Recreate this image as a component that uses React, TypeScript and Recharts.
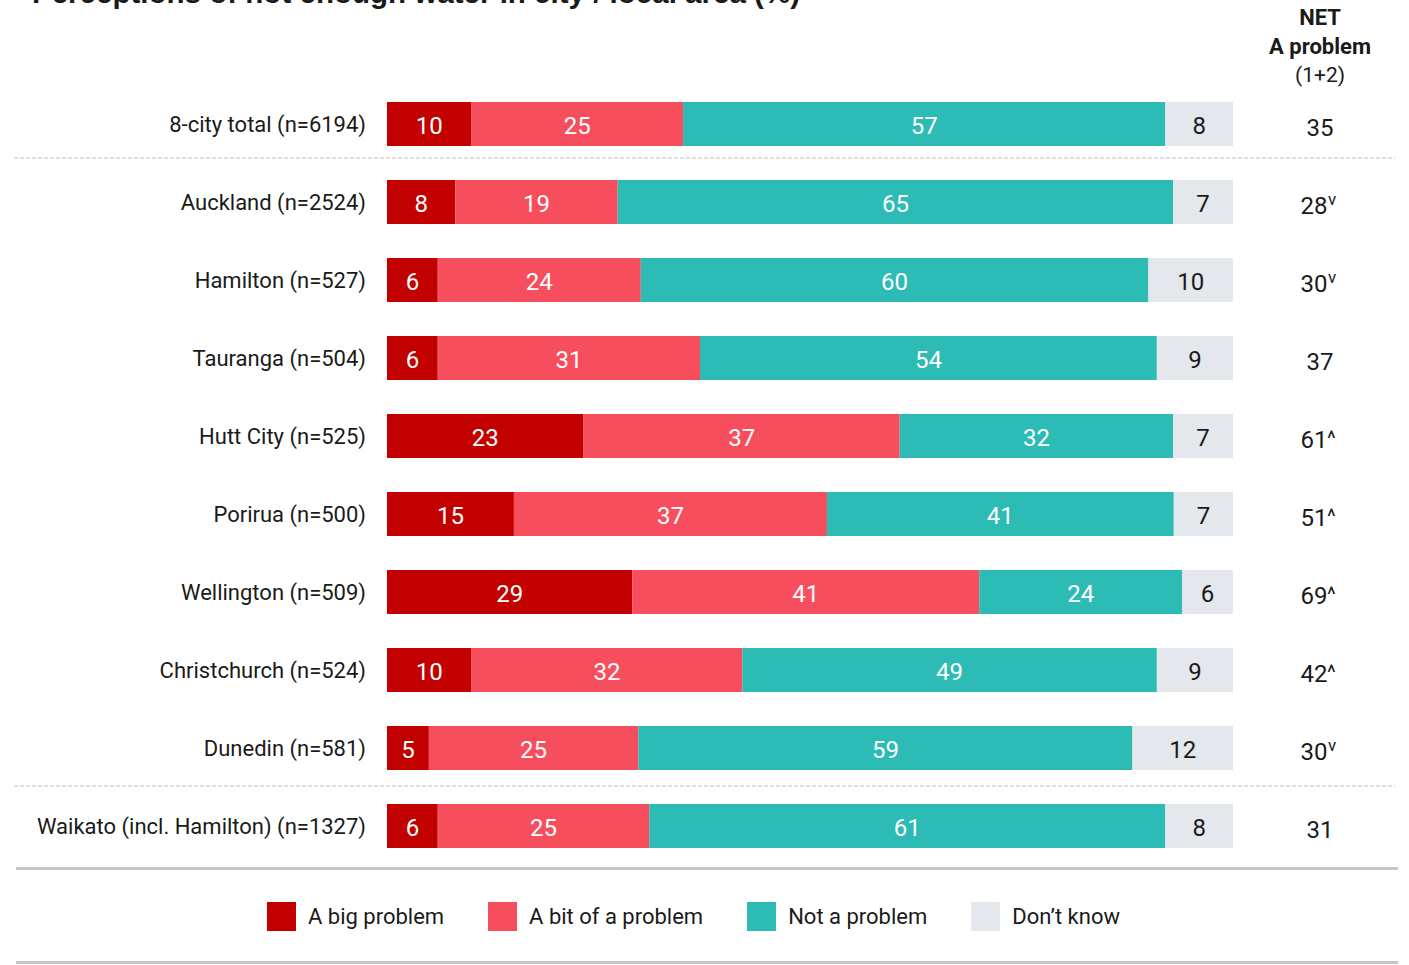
import { BarChart, Bar, XAxis, YAxis, LabelList } from 'recharts';

const categories = [
  '8-city total (n=6194)',
  'Auckland (n=2524)',
  'Hamilton (n=527)',
  'Tauranga (n=504)',
  'Hutt City (n=525)',
  'Porirua (n=500)',
  'Wellington (n=509)',
  'Christchurch (n=524)',
  'Dunedin (n=581)',
  'Waikato (incl. Hamilton) (n=1327)',
];

const bigProblem = [10, 8, 6, 6, 23, 15, 29, 10, 5, 6];
const bitProblem = [25, 19, 24, 31, 37, 37, 41, 32, 25, 25];
const notProblem = [57, 65, 60, 54, 32, 41, 24, 49, 59, 61];
const dontKnow = [8, 7, 10, 9, 7, 7, 6, 9, 12, 8];
const netProblem = [35, 28, 30, 37, 61, 51, 69, 42, 30, 31];
const netMark = ['', 'v', 'v', '', '^', '^', '^', '^', 'v', ''];

const series = [
  { key: 'big', name: 'A big problem', color: '#C20000', text: '#ffffff' },
  { key: 'bit', name: 'A bit of a problem', color: '#F74E5E', text: '#ffffff' },
  { key: 'not', name: 'Not a problem', color: '#2DBBB5', text: '#ffffff' },
  { key: 'dk', name: "Don\u2019t know", color: '#E4E7EB', text: '#1a1a1a' },
];

const FONT = 'Roboto, "Noto Sans", sans-serif';

// bars are scaled so each row fills 100% (source values are rounded)
const chartData = categories.map((name, i) => {
  const sum = bigProblem[i] + bitProblem[i] + notProblem[i] + dontKnow[i];
  return {
    name,
    big: (bigProblem[i] / sum) * 100,
    bit: (bitProblem[i] / sum) * 100,
    not: (notProblem[i] / sum) * 100,
    dk: (dontKnow[i] / sum) * 100,
    bigLabel: bigProblem[i],
    bitLabel: bitProblem[i],
    notLabel: notProblem[i],
    dkLabel: dontKnow[i],
    netLabel: `${netProblem[i]}|${netMark[i]}`,
  };
});

function CategoryTick({ y, payload }: any) {
  return (
    <text
      x={366}
      y={y}
      textAnchor="end"
      dominantBaseline="central"
      fontSize={22}
      fontFamily={FONT}
      fill="#1a1a1a"
    >
      {payload.value}
    </text>
  );
}

function makeBarLabel(color: string) {
  return function BarLabel(props: any) {
    const x = Number(props.x);
    const y = Number(props.y);
    const w = Number(props.width);
    const h = Number(props.height);
    return (
      <text
        x={x + w / 2}
        y={y + h / 2 + 2}
        textAnchor="middle"
        dominantBaseline="central"
        fontSize={24}
        fontFamily={FONT}
        fill={color}
      >
        {props.value}
      </text>
    );
  };
}

function NetLabel(props: any) {
  const y = Number(props.y);
  const h = Number(props.height);
  const [num, mark] = String(props.value).split('|');
  return (
    <g fontFamily={FONT} fill="#1a1a1a">
      <text
        x={mark ? 1314 : 1320}
        y={y + h / 2 + 4}
        textAnchor="middle"
        dominantBaseline="central"
        fontSize={24}
      >
        {num}
      </text>
      {mark === 'v' ? (
        <text x={1328} y={y + h / 2 + 3} fontSize={17}>
          v
        </text>
      ) : null}
      {mark === '^' ? (
        <text x={1327} y={y + h / 2 + 9} fontSize={21}>
          ^
        </text>
      ) : null}
    </g>
  );
}

export default function App() {
  return (
    <div style={{ position: 'absolute', top: 0, left: 0, width: 1409, height: 965, background: '#fff' }}>
      <BarChart
        width={1409}
        height={965}
        data={chartData}
        layout="vertical"
        margin={{ top: 85, right: 176, bottom: 100, left: 0 }}
        barSize={44}
      >
        <XAxis type="number" domain={[0, 100]} hide />
        <YAxis
          type="category"
          dataKey="name"
          width={387}
          axisLine={false}
          tickLine={false}
          tick={<CategoryTick />}
          interval={0}
        />
        {series.map((s) => (
          <Bar key={s.key} dataKey={s.key} name={s.name} stackId="a" fill={s.color} isAnimationActive={false}>
            <LabelList dataKey={`${s.key}Label`} content={makeBarLabel(s.text)} />
            {s.key === 'dk' ? <LabelList dataKey="netLabel" content={NetLabel} /> : null}
          </Bar>
        ))}
      </BarChart>

      <svg
        width={1409}
        height={965}
        style={{ position: 'absolute', top: 0, left: 0, pointerEvents: 'none' }}
      >
        <text
          x={32}
          y={3}
          fontSize={30}
          fontWeight="bold"
          fontFamily='"Liberation Sans Narrow", "Liberation Sans", Arial, sans-serif'
          fill="#1a1a1a"
          textLength={768}
          lengthAdjust="spacingAndGlyphs"
        >
          Perceptions of not enough water in city / local area (%)
        </text>
        <g fontFamily={FONT} fill="#1a1a1a" textAnchor="middle">
          <text x={1320} y={25} fontSize={22} fontWeight="bold">NET</text>
          <text x={1320} y={54} fontSize={22} fontWeight="bold">A problem</text>
          <text x={1320} y={82} fontSize={21}>(1+2)</text>
        </g>
        <line x1={14} x2={1395} y1={158} y2={158} stroke="#bdbdbd" strokeDasharray="4 2" />
        <line x1={14} x2={1395} y1={786} y2={786} stroke="#bdbdbd" strokeDasharray="4 2" />
        <line x1={16} x2={1398} y1={868.5} y2={868.5} stroke="#c6c6c6" strokeWidth={3} />
        <line x1={16} x2={1398} y1={962.5} y2={962.5} stroke="#c6c6c6" strokeWidth={3} />
      </svg>

      <div
        style={{
          position: 'absolute',
          top: 901,
          left: 0,
          width: 1409,
          display: 'flex',
          justifyContent: 'center',
          gap: 44,
          paddingRight: 22,
          boxSizing: 'border-box',
          fontFamily: FONT,
          fontSize: 22,
          color: '#1a1a1a',
        }}
      >
        {series.map((s) => (
          <div key={s.key} style={{ display: 'flex', alignItems: 'center', gap: 12, height: 30 }}>
            <div style={{ width: 29, height: 29, background: s.color }} />
            <span>{s.name}</span>
          </div>
        ))}
      </div>
    </div>
  );
}
